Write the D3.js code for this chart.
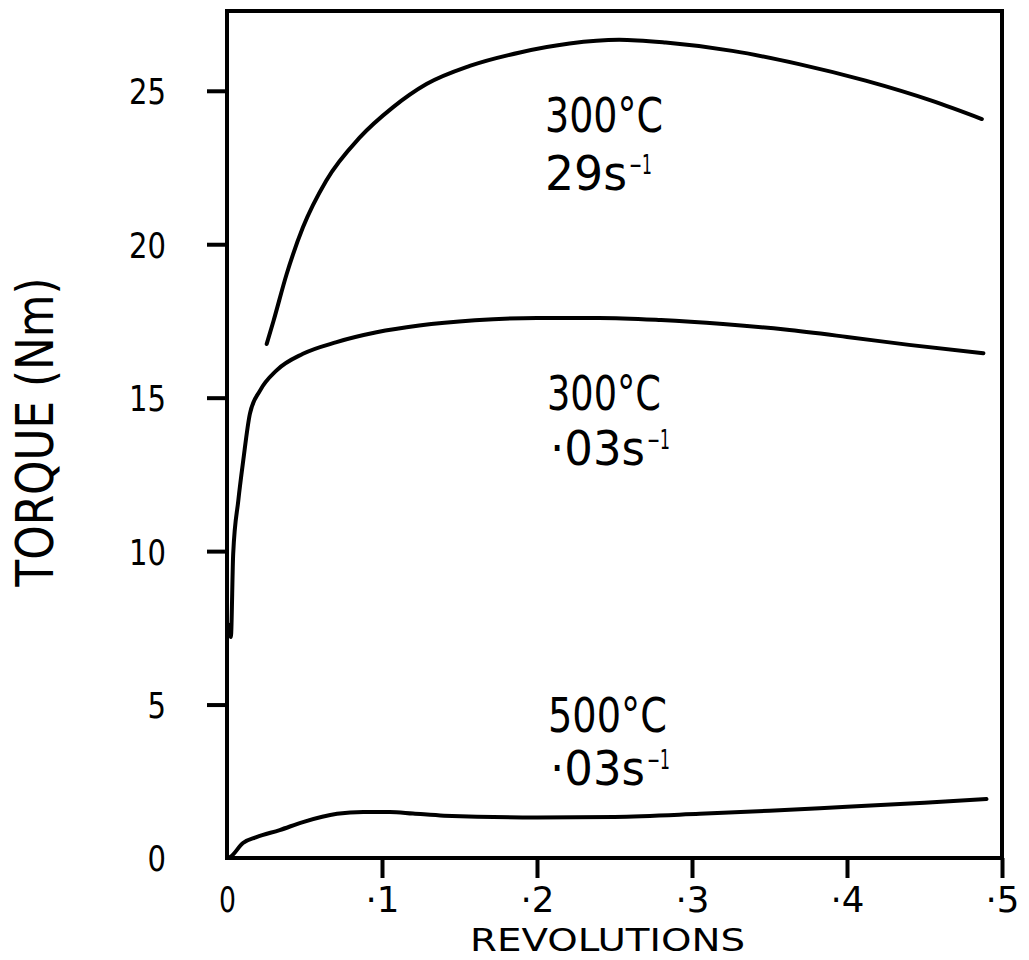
<!DOCTYPE html>
<html>
<head>
<meta charset="utf-8">
<script src="https://cdn.jsdelivr.net/npm/d3@7"></script>
<style>
  html, body { margin: 0; padding: 0; background: #fff; }
  svg text { font-family: "DejaVu Sans", sans-serif; fill: #000; }
</style>
</head>
<body>
<svg id="chart" width="1029" height="960"></svg>
<script>
// ---- data ----
const xTicks = [0, 0.1, 0.2, 0.3, 0.4, 0.5];
const xTickLabels = ["0", "·1", "·2", "·3", "·4", "·5"];
const yTicks = [0, 5, 10, 15, 20, 25];
const yTickLabels = ["0", "5", "10", "15", "20", "25"];

// 300°C, 29 s^-1
const rev29 = [0.0256, 0.030, 0.0385, 0.049, 0.064, 0.0857, 0.107, 0.1287, 0.1566, 0.189, 0.221, 0.253, 0.283, 0.326, 0.369, 0.412, 0.455, 0.487];
const torque29 = [16.75, 17.5, 19.03, 20.55, 22.07, 23.48, 24.46, 25.22, 25.81, 26.25, 26.54, 26.66, 26.57, 26.3, 25.87, 25.33, 24.67, 24.08];

// 300°C, .03 s^-1
const rev300 = [0.0012, 0.0025, 0.004, 0.0073, 0.0105, 0.0148, 0.0213, 0.032, 0.049, 0.0707, 0.0965, 0.124, 0.16, 0.2, 0.24, 0.28, 0.32, 0.36, 0.4, 0.44, 0.488];
const torque300 = [7.6, 7.2, 9.92, 11.65, 12.96, 14.48, 15.23, 15.89, 16.43, 16.81, 17.13, 17.35, 17.52, 17.6, 17.6, 17.53, 17.4, 17.22, 16.98, 16.72, 16.45];

// 500°C, .03 s^-1
const rev500 = [0.0005, 0.002, 0.0103, 0.019, 0.034, 0.049, 0.071, 0.088, 0.105, 0.12, 0.14, 0.2, 0.25, 0.305, 0.35, 0.4, 0.45, 0.49];
const torque500 = [0.0, 0.03, 0.49, 0.68, 0.91, 1.17, 1.44, 1.5, 1.5, 1.45, 1.38, 1.32, 1.34, 1.44, 1.54, 1.67, 1.8, 1.92];

const xTitle = "REVOLUTIONS";
const yTitle = "TORQUE (Nm)";

// ---- layout ----
const svg = d3.select("#chart");
const mLeft = 227, mRight = 1002, mTop = 11, mBottom = 858;
const x = d3.scaleLinear().domain([0, 0.5]).range([mLeft, mRight]);
const y = d3.scaleLinear().domain([0, 27.6]).range([mBottom, mTop]);

const ink = "#000";

// y axis
const yAxis = d3.axisLeft(y)
  .tickValues(yTicks)
  .tickFormat((d, i) => yTickLabels[i])
  .tickSizeInner(20).tickSizeOuter(0).tickPadding(41);
const gy = svg.append("g").attr("transform", `translate(${mLeft},0)`).call(yAxis);
gy.select(".domain").remove();
gy.selectAll(".tick line").attr("stroke", ink).attr("stroke-width", 4)
  .attr("opacity", d => d === 0 ? 0 : 1);
gy.selectAll(".tick text")
  .attr("font-size", 36).attr("font-family", "DejaVu Sans").attr("dy", "0.36em")
  .attr("textLength", (d, i) => yTickLabels[i].length * 18.5)
  .attr("lengthAdjust", "spacingAndGlyphs");

// x axis
const xAxis = d3.axisBottom(x)
  .tickValues(xTicks)
  .tickFormat((d, i) => xTickLabels[i])
  .tickSizeInner(20).tickSizeOuter(0).tickPadding(9.5);
const gx = svg.append("g").attr("transform", `translate(0,${mBottom})`).call(xAxis);
gx.select(".domain").remove();
gx.selectAll(".tick line").attr("stroke", ink).attr("stroke-width", 4)
  .attr("opacity", d => d === 0 ? 0 : 1);
gx.selectAll(".tick text")
  .attr("font-size", 35).attr("font-family", "DejaVu Sans").attr("dy", "0.71em")
  .attr("textLength", (d, i) => xTickLabels[i].length === 1 ? 17 : 34)
  .attr("lengthAdjust", "spacingAndGlyphs");

// frame
svg.append("rect")
  .attr("x", x(0)).attr("y", y(27.6))
  .attr("width", x(0.5) - x(0)).attr("height", y(0) - y(27.6))
  .attr("fill", "none").attr("stroke", ink).attr("stroke-width", 4);

// curves
const line = d3.line().x(d => x(d[0])).y(d => y(d[1])).curve(d3.curveMonotoneX);
const series = [
  d3.zip(rev29, torque29),
  d3.zip(rev300, torque300),
  d3.zip(rev500, torque500)
];
svg.selectAll("path.curve").data(series).join("path")
  .attr("class", "curve")
  .attr("d", line)
  .attr("fill", "none").attr("stroke", ink).attr("stroke-width", 4)
  .attr("stroke-linecap", "round").attr("stroke-linejoin", "round");

// narrow lettering: scale text horizontally to a target width
function narrowText(px, py, str, size, width) {
  const g = svg.append("g");
  const t = g.append("text").attr("x", 0).attr("y", 0).attr("font-size", size).text(str);
  const natural = t.node().getComputedTextLength();
  const sx = width / natural;
  g.attr("transform", `translate(${px},${py}) scale(${sx},1)`);
  return g;
}

// annotations (main text + separate superscript)
const annotations = [
  { x: 545, y: 132, main: "300°C", len: 118, sup: null },
  { x: 545, y: 190, main: "29s", len: 82, sup: "−1" },
  { x: 547, y: 410, main: "300°C", len: 114, sup: null },
  { x: 550, y: 465, main: "·03s", len: 95, sup: "−1" },
  { x: 548, y: 732, main: "500°C", len: 119, sup: null },
  { x: 550, y: 785, main: "·03s", len: 95, sup: "−1" }
];
annotations.forEach(a => {
  narrowText(a.x, a.y, a.main, 48, a.len);
  if (a.sup) narrowText(a.x + a.len + 2, a.y - 16, a.sup, 27, 23);
});

// axis titles
svg.append("text")
  .attr("x", (mLeft + mRight) / 2 - 7).attr("y", 951)
  .attr("text-anchor", "middle").attr("font-size", 32)
  .attr("textLength", 275).attr("lengthAdjust", "spacingAndGlyphs")
  .text(xTitle);

svg.append("text")
  .attr("transform", "translate(53,432) rotate(-90)")
  .attr("text-anchor", "middle").attr("font-size", 51)
  .attr("textLength", 309).attr("lengthAdjust", "spacingAndGlyphs")
  .text(yTitle);
</script>
</body>
</html>
